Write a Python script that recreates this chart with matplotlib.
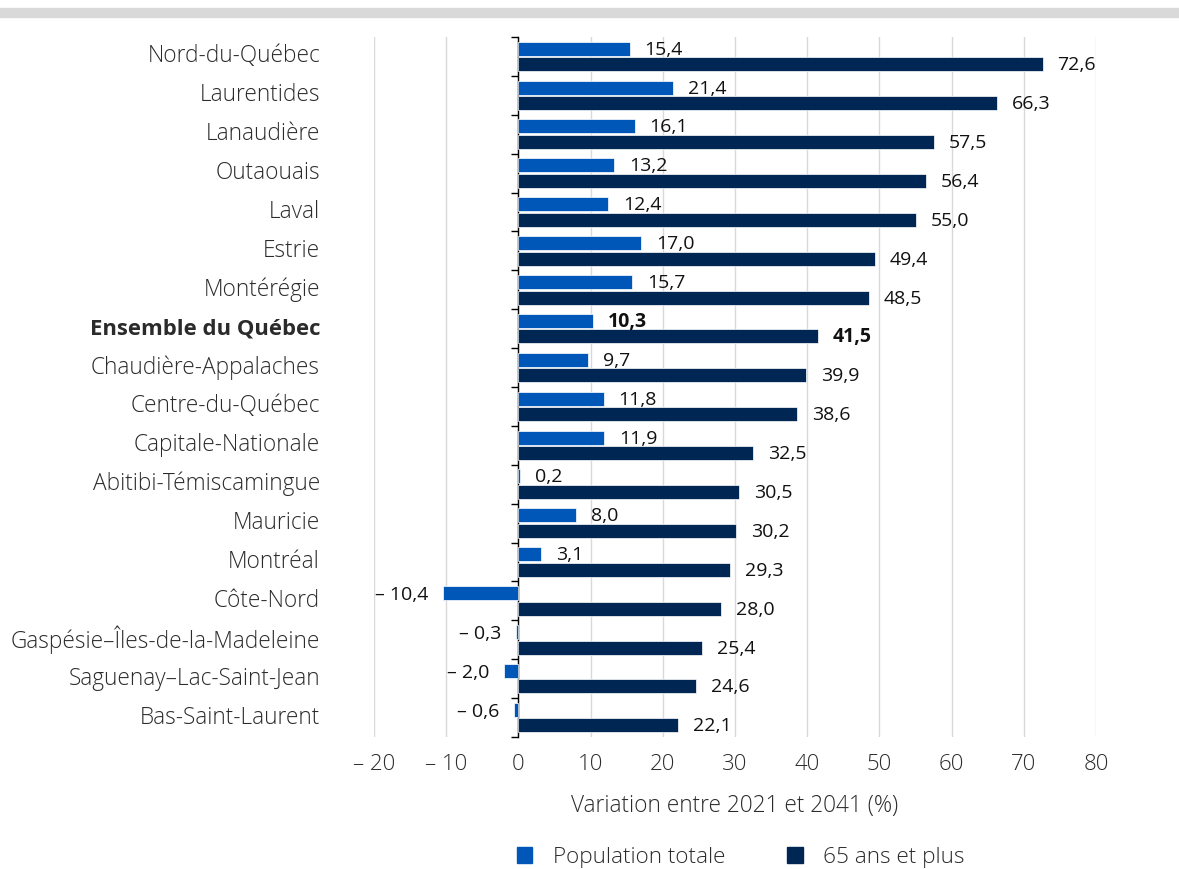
import matplotlib.pyplot as plt
from matplotlib.patches import Rectangle, Patch
import numpy as np

plt.rcParams['font.family'] = ['Open Sans', 'DejaVu Sans']

regions = ['Nord-du-Québec', 'Laurentides', 'Lanaudière', 'Outaouais', 'Laval',
           'Estrie', 'Montérégie', 'Ensemble du Québec', 'Chaudière-Appalaches',
           'Centre-du-Québec', 'Capitale-Nationale', 'Abitibi-Témiscamingue',
           'Mauricie', 'Montréal', 'Côte-Nord', 'Gaspésie–Îles-de-la-Madeleine',
           'Saguenay–Lac-Saint-Jean', 'Bas-Saint-Laurent']
pop_totale = [15.4, 21.4, 16.1, 13.2, 12.4, 17.0, 15.7, 10.3, 9.7, 11.8, 11.9,
              0.2, 8.0, 3.1, -10.4, -0.3, -2.0, -0.6]
pop_65plus = [72.6, 66.3, 57.5, 56.4, 55.0, 49.4, 48.5, 41.5, 39.9, 38.6, 32.5,
              30.5, 30.2, 29.3, 28.0, 25.4, 24.6, 22.1]
xticks = [-20, -10, 0, 10, 20, 30, 40, 50, 60, 70, 80]

bold_region = 'Ensemble du Québec'
c_light = '#0057b8'
c_dark = '#002654'
txt = '#2b2b2b'


def fmt(v):
    s = f'{abs(v):.1f}'.replace('.', ',')
    if v < 0:
        return '– ' + s
    return s


def fmt_tick(t):
    if t < 0:
        return '– ' + str(abs(t))
    return str(t)


fig = plt.figure(figsize=(11.79, 8.69), dpi=100)
fig.patches.append(Rectangle((0, 1 - 17 / 869), 1, 9 / 869, transform=fig.transFigure,
                             color='#d9d9d9', zorder=0))
ax = fig.add_axes([374 / 1179, 1 - 737 / 869, 722 / 1179, 700 / 869])

n = len(regions)
y = np.arange(n)
h = 0.36
ax.barh(y - 0.2, pop_totale, height=h, color=c_light, edgecolor='white', linewidth=0.5,
        label='Population totale', zorder=3)
ax.barh(y + 0.2, pop_65plus, height=h, color=c_dark, edgecolor='white', linewidth=0.5,
        label='65 ans et plus', zorder=3)

ax.set_xlim(-20, 80)
ax.set_ylim(n - 0.5, -0.5)

for i, r in enumerate(regions):
    if r == bold_region:
        w, fs = 'bold', 15.9
    else:
        w, fs = 'light', 16.3
    ax.text(-54 / 722, i, r, transform=ax.get_yaxis_transform(), ha='right', va='center',
            fontsize=fs, color=txt, fontweight=w)
    wv = 'bold' if r == bold_region else 'normal'
    for off, v in [(-0.2, pop_totale[i]), (0.2, pop_65plus[i])]:
        if v >= 0:
            ax.annotate(fmt(v), (v, i + off), xytext=(15, -1), textcoords='offset pixels',
                        ha='left', va='center', fontsize=14, color='#111111', fontweight=wv)
        else:
            ax.annotate(fmt(v), (v, i + off), xytext=(-15, -2), textcoords='offset pixels',
                        ha='right', va='center', fontsize=14, color='#111111', fontweight=wv)

for s in ['top', 'right', 'bottom']:
    ax.spines[s].set_visible(False)
ax.spines['left'].set_position(('data', 0))
ax.spines['left'].set_color('black')
ax.spines['left'].set_linewidth(1)
ax.set_yticks(np.arange(n + 1) - 0.5)
ax.set_yticklabels([])
ax.tick_params(axis='y', length=5, width=1, color='black')

ax.set_xticks(xticks)
ax.set_xticklabels([fmt_tick(t) for t in xticks], fontsize=16, color=txt, fontweight='light')
ax.tick_params(axis='x', length=0, pad=12)
ax.grid(axis='x', color='#d9d9d9', linewidth=1, zorder=0)
ax.set_axisbelow(True)
ax.set_xlabel('Variation entre 2021 et 2041 (%)', fontsize=16.3, color=txt, labelpad=14,
              fontweight='light')

handles = [Patch(color=c_light, label='Population totale'),
           Patch(color=c_dark, label='65 ans et plus')]
leg = fig.legend(handles=handles, loc='center', bbox_to_anchor=(0.628, 1 - 857 / 869), ncol=2,
                 frameon=False, fontsize=16.2, handlelength=0.7, handleheight=0.7,
                 columnspacing=2.75, handletextpad=0.9, labelcolor=txt)
for t in leg.get_texts():
    t.set_fontweight('light')

fig.savefig('out.png', dpi=100)
